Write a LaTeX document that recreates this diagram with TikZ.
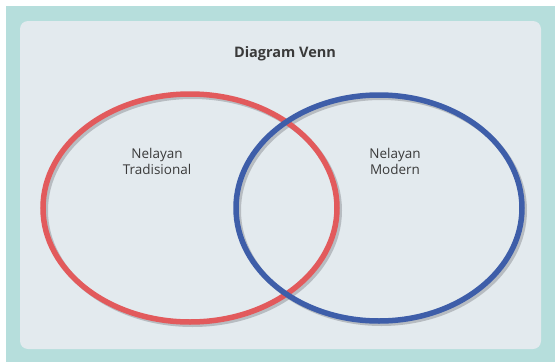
\documentclass[tikz,border=0pt]{standalone}
\usepackage{fontspec}
\setmainfont{Open Sans}
\definecolor{teal1}{HTML}{B6DEDC}
\definecolor{panel}{HTML}{E3EAEE}
\definecolor{vred}{HTML}{E25A5C}
\definecolor{vblue}{HTML}{3E5EA9}
\definecolor{txt}{HTML}{3A3A3A}
\definecolor{shad}{HTML}{9A9EA3}
\begin{document}
\begin{tikzpicture}[x=1pt,y=-1pt,
  ring/.style={line width=5.5pt},
  shadowring/.style={line width=5pt,draw=shad,opacity=0.6},
  lbl/.style={text=txt,font=\fontsize{13.5}{16}\selectfont,align=center}]
\useasboundingbox (0,0) rectangle (555,362);
\fill[white] (0,0) rectangle (555,362);
\fill[teal1] (6,6) rectangle (555,362);
\fill[panel,rounded corners=8pt] (20,21) rectangle (541,349);
\node[text=txt,font=\fontsize{14.5}{17}\selectfont\bfseries] (title) at (285,54) {Diagram Venn};
% shadows
\draw[shadowring] (192.5,210.5) ellipse [x radius=147, y radius=114];
\draw[shadowring] (381.5,210.5) ellipse [x radius=143, y radius=113];
% rings
\draw[ring,draw=vred] (190,208) ellipse [x radius=147, y radius=114];
\draw[ring,draw=vblue] (379,208) ellipse [x radius=143, y radius=113];
\node[lbl] (trad) at (157,161) {Nelayan\\Tradisional};
\node[lbl] (mod) at (395,161) {Nelayan\\Modern};
\end{tikzpicture}
\end{document}
